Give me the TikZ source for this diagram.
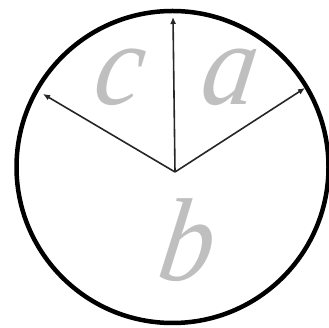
\documentclass[tikz,border=0pt]{standalone}
\usepackage{fontspec}
\newfontfamily\lblfont{Liberation Serif Italic}[FakeSlant=0.15, FakeStretch=0.92]
\usetikzlibrary{arrows.meta}

\begin{document}
\begin{tikzpicture}[
    x=1pt, y=1pt,
    rim/.style={draw, line width=4.5pt},
    arr/.style={-{Latex[length=7pt, width=6pt]}, line width=1.6pt, draw=black!85},
    lbl/.style={anchor=base, text=black!25, font=\fontsize{118}{118}\lblfont}]
\useasboundingbox (0,0) rectangle (329,328);
\coordinate (m) at (172.5,161);
\coordinate (o) at (175,156);
\draw[rim] (m) circle[radius=156];
\coordinate (t) at (173,311);
\coordinate (l) at (43,234);
\coordinate (r) at (305,240);
\draw[arr] (o) -- (t);
\draw[arr] (o) -- (l);
\draw[arr] (o) -- (r);
\node[lbl] (c) at (116,223) {c};
\node[lbl] (a) at (226,223) {a};
\node[lbl] (b) at (183,47) {b};
\end{tikzpicture}
\end{document}
